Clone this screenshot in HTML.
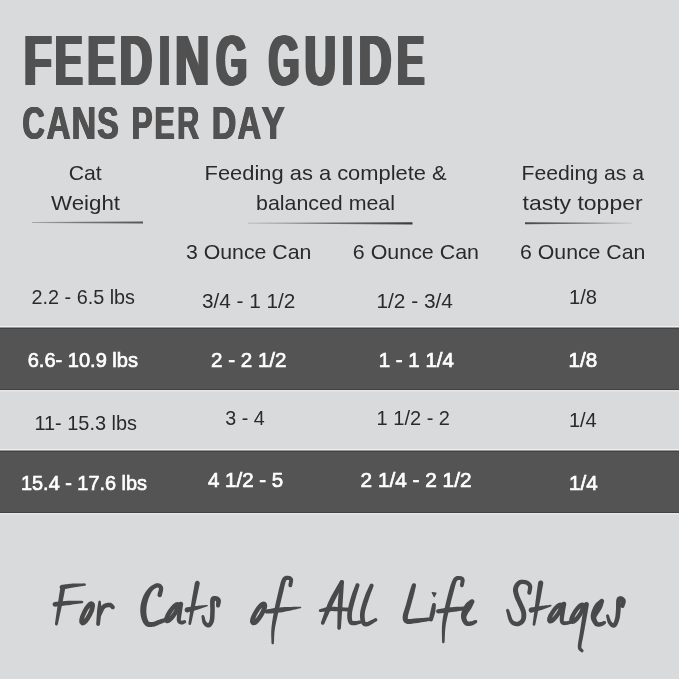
<!DOCTYPE html>
<html><head><meta charset="utf-8">
<style>
html,body{margin:0;padding:0;background:#d9dadc;width:679px;height:679px;overflow:hidden}
svg{display:block}
text{will-change:transform}
.t{font-family:"Liberation Sans",sans-serif;font-weight:bold;fill:#515151}
.b{font-family:"Liberation Sans",sans-serif;font-size:21px;fill:#2a2a2a}
.w{font-family:"Liberation Sans",sans-serif;font-size:21px;fill:#ffffff;stroke:#ffffff;stroke-width:0.7px}
</style></head><body>
<svg width="679" height="679" viewBox="0 0 679 679">
<rect x="0" y="0" width="679" height="679" fill="#d9dadc"/>
<!-- title -->
<g id="ttl" class="t">
<text transform="translate(22.14 85.00) scale(0.6533 1)" font-size="70">F</text>
<text transform="translate(53.33 85.00) scale(0.5907 1)" font-size="70">E</text>
<text transform="translate(85.67 85.00) scale(0.6035 1)" font-size="70">E</text>
<text transform="translate(117.98 85.00) scale(0.6452 1)" font-size="70">D</text>
<text transform="translate(157.40 85.00) scale(0.5554 1)" font-size="70">I</text>
<text transform="translate(173.44 85.00) scale(0.6755 1)" font-size="70">N</text>
<text transform="translate(214.56 85.00) scale(0.5695 1)" font-size="70">G</text>
<text transform="translate(266.88 85.00) scale(0.5652 1)" font-size="70">G</text>
<text transform="translate(302.89 85.00) scale(0.6203 1)" font-size="70">U</text>
<text transform="translate(340.40 85.00) scale(0.5554 1)" font-size="70">I</text>
<text transform="translate(356.96 85.00) scale(0.6499 1)" font-size="70">D</text>
<text transform="translate(395.13 85.00) scale(0.5907 1)" font-size="70">E</text>
</g>
<use href="#ttl" x="0.82"/>
<use href="#ttl" x="1.65"/>
<use href="#ttl" x="2.47"/>
<use href="#ttl" x="3.30"/>
<g id="cns" class="t">
<text transform="translate(21.84 138.70) scale(0.6683 1)" font-size="46">C</text>
<text transform="translate(45.88 138.70) scale(0.7193 1)" font-size="46">A</text>
<text transform="translate(70.92 138.70) scale(0.7396 1)" font-size="46">N</text>
<text transform="translate(96.58 138.70) scale(0.6967 1)" font-size="46">S</text>
<text transform="translate(130.90 138.70) scale(0.6838 1)" font-size="46">P</text>
<text transform="translate(153.76 138.70) scale(0.6626 1)" font-size="46">E</text>
<text transform="translate(176.56 138.70) scale(0.6644 1)" font-size="46">R</text>
<text transform="translate(211.13 138.70) scale(0.7373 1)" font-size="46">D</text>
<text transform="translate(236.89 138.70) scale(0.7064 1)" font-size="46">A</text>
<text transform="translate(260.91 138.70) scale(0.7546 1)" font-size="46">Y</text>
</g>
<use href="#cns" x="0.43"/>
<use href="#cns" x="0.87"/>
<use href="#cns" x="1.30"/>
<!-- headers -->
<text class="b" x="68.7" y="179.5" textLength="33" lengthAdjust="spacingAndGlyphs">Cat</text>
<text class="b" x="51" y="209.7" textLength="69" lengthAdjust="spacingAndGlyphs">Weight</text>
<text class="b" x="204.6" y="179.5" textLength="242" lengthAdjust="spacingAndGlyphs">Feeding as a complete &amp;</text>
<text class="b" x="256" y="209.7" textLength="139" lengthAdjust="spacingAndGlyphs">balanced meal</text>
<text class="b" x="521.5" y="179.5" textLength="122.5" lengthAdjust="spacingAndGlyphs">Feeding as a</text>
<text class="b" x="522.6" y="209.7" textLength="120" lengthAdjust="spacingAndGlyphs">tasty topper</text>
<!-- rules -->
<defs>
<linearGradient id="g1" x1="0" x2="1" y1="0" y2="0"><stop offset="0" stop-color="#a8a8a8"/><stop offset="0.4" stop-color="#7a7a7a"/><stop offset="1" stop-color="#555"/></linearGradient>
<linearGradient id="g2" x1="0" x2="1" y1="0" y2="0"><stop offset="0" stop-color="#b0b0b0"/><stop offset="0.5" stop-color="#707070"/><stop offset="1" stop-color="#3a3a3a"/></linearGradient>
<linearGradient id="g3" x1="0" x2="1" y1="0" y2="0"><stop offset="0" stop-color="#484848"/><stop offset="0.6" stop-color="#808080"/><stop offset="1" stop-color="#c4c4c4"/></linearGradient>
</defs>
<polygon points="32,222.1 143,221.6 143,223.6 32,223.1" fill="url(#g1)"/>
<polygon points="248,222.7 412.5,222.2 412.5,224.4 248,223.5" fill="url(#g2)"/>
<polygon points="525,222.3 632,222.7 632,223.6 525,224.2" fill="url(#g3)"/>
<!-- subheaders -->
<text class="b" x="186" y="259" textLength="125.3" lengthAdjust="spacingAndGlyphs">3 Ounce Can</text>
<text class="b" x="352.8" y="259" textLength="126.2" lengthAdjust="spacingAndGlyphs">6 Ounce Can</text>
<text class="b" x="520" y="259" textLength="125.4" lengthAdjust="spacingAndGlyphs">6 Ounce Can</text>
<!-- row 1 -->
<text class="b" x="31.5" y="303.6" textLength="103.5" lengthAdjust="spacingAndGlyphs">2.2 - 6.5 lbs</text>
<text class="b" x="202" y="307.5" textLength="93.4" lengthAdjust="spacingAndGlyphs">3/4 - 1 1/2</text>
<text class="b" x="376.4" y="307.5" textLength="76.6" lengthAdjust="spacingAndGlyphs">1/2 - 3/4</text>
<text class="b" x="569" y="303.5" textLength="28" lengthAdjust="spacingAndGlyphs">1/8</text>
<!-- row 2 dark -->
<rect x="0" y="326" width="679" height="1" fill="#efefef"/>
<rect x="0" y="327.5" width="679" height="62.5" fill="#545454"/>
<rect x="0" y="328" width="679" height="1" fill="#424242"/>
<rect x="0" y="389" width="679" height="1" fill="#424242"/>
<rect x="0" y="390" width="679" height="1.5" fill="#e6e6e6"/>
<text class="w" x="27.7" y="366.8" textLength="110.3" lengthAdjust="spacingAndGlyphs">6.6- 10.9 lbs</text>
<text class="w" x="211" y="367" textLength="75.5" lengthAdjust="spacingAndGlyphs">2 - 2 1/2</text>
<text class="w" x="378.8" y="367" textLength="75.1" lengthAdjust="spacingAndGlyphs">1 - 1 1/4</text>
<text class="w" x="568.6" y="367" textLength="28.7" lengthAdjust="spacingAndGlyphs">1/8</text>
<!-- row 3 -->
<text class="b" x="34.4" y="429.8" textLength="102.6" lengthAdjust="spacingAndGlyphs">11- 15.3 lbs</text>
<text class="b" x="225.3" y="425.3" textLength="39.4" lengthAdjust="spacingAndGlyphs">3 - 4</text>
<text class="b" x="376.6" y="425.3" textLength="73.4" lengthAdjust="spacingAndGlyphs">1 1/2 - 2</text>
<text class="b" x="568.9" y="426.5" textLength="27.9" lengthAdjust="spacingAndGlyphs">1/4</text>
<!-- row 4 dark -->
<rect x="0" y="449" width="679" height="1" fill="#efefef"/>
<rect x="0" y="450.5" width="679" height="62.5" fill="#545454"/>
<rect x="0" y="451" width="679" height="1" fill="#424242"/>
<rect x="0" y="512" width="679" height="1" fill="#424242"/>
<rect x="0" y="513" width="679" height="1.5" fill="#e6e6e6"/>
<text class="w" x="21" y="489.6" textLength="126" lengthAdjust="spacingAndGlyphs">15.4 - 17.6 lbs</text>
<text class="w" x="208" y="487" textLength="75.2" lengthAdjust="spacingAndGlyphs">4 1/2 - 5</text>
<text class="w" x="360.6" y="487" textLength="110.9" lengthAdjust="spacingAndGlyphs">2 1/4 - 2 1/2</text>
<text class="w" x="569" y="490.2" textLength="28.6" lengthAdjust="spacingAndGlyphs">1/4</text>
<!-- script -->
<g fill="#494949" stroke="none">
<path d="M62.35,589.55 63.72,589.30 65.09,589.06 66.45,588.81 67.80,588.57 69.15,588.33 70.50,588.09 71.86,587.85 73.23,587.62 74.82,587.36 76.43,587.10 78.07,586.85 79.72,586.60 81.38,586.35 83.05,586.09 84.70,585.84 85.17,585.71 85.55,585.40 85.78,584.98 85.84,584.50 85.71,584.03 85.40,583.65 84.98,583.42 84.50,583.36 82.83,583.38 81.15,583.39 79.47,583.40 77.79,583.41 76.11,583.44 74.43,583.49 72.77,583.58 71.33,583.69 69.91,583.83 68.51,583.99 67.13,584.16 65.75,584.33 64.38,584.51 63.02,584.69 61.65,584.85 60.78,585.17 60.09,585.79 59.70,586.62 59.65,587.55 59.97,588.42 60.59,589.11 61.42,589.50Z"/>
<path d="M60.45,587.07 60.11,589.25 59.76,591.42 59.41,593.58 59.07,595.75 58.72,597.93 58.38,600.13 58.03,602.35 57.69,604.62 57.29,607.27 56.90,609.97 56.51,612.71 56.12,615.46 55.73,618.23 55.34,621.00 54.95,623.74 54.96,624.31 55.19,624.84 55.61,625.24 56.14,625.45 56.71,625.44 57.24,625.21 57.64,624.79 57.85,624.26 58.43,621.55 59.03,618.82 59.62,616.09 60.21,613.37 60.80,610.67 61.37,608.00 61.91,605.38 62.37,603.13 62.82,600.91 63.25,598.73 63.67,596.56 64.09,594.41 64.50,592.26 64.92,590.10 65.35,587.93 65.33,586.96 64.94,586.08 64.24,585.40 63.33,585.05 62.36,585.07 61.48,585.46 60.80,586.16Z"/>
<path d="M55.24,606.66 56.86,606.47 58.47,606.29 60.07,606.11 61.66,605.93 63.27,605.74 64.88,605.55 66.52,605.35 68.18,605.14 70.12,604.88 72.11,604.60 74.12,604.31 76.16,604.02 78.20,603.72 80.25,603.42 82.28,603.13 82.70,603.01 83.05,602.74 83.27,602.36 83.33,601.92 83.21,601.50 82.94,601.15 82.56,600.93 82.12,600.87 80.07,600.86 78.01,600.84 75.94,600.81 73.88,600.79 71.83,600.78 69.81,600.80 67.82,600.86 66.12,600.94 64.45,601.06 62.81,601.19 61.19,601.33 59.58,601.49 57.98,601.65 56.38,601.80 54.76,601.94 53.87,602.21 53.16,602.80 52.73,603.62 52.64,604.54 52.91,605.43 53.50,606.14 54.32,606.57Z"/>
<path d="M98.36,601.76 98.21,602.75 98.05,603.68 97.90,604.58 97.74,605.49 97.59,606.44 97.44,607.45 97.30,608.58 97.16,609.85 97.01,611.53 96.87,613.40 96.73,615.41 96.59,617.51 96.46,619.65 96.32,621.78 96.19,623.83 96.27,624.58 96.63,625.23 97.21,625.70 97.93,625.91 98.68,625.83 99.33,625.47 99.80,624.89 100.01,624.17 100.23,622.12 100.48,620.01 100.73,617.88 100.97,615.78 101.18,613.76 101.34,611.86 101.44,610.15 101.47,608.81 101.44,607.63 101.37,606.56 101.27,605.58 101.16,604.66 101.04,603.75 100.93,602.82 100.84,601.84 100.76,601.36 100.51,600.95 100.11,600.67 99.64,600.56 99.16,600.64 98.75,600.89 98.47,601.29Z"/>
<path d="M101.46,615.23 101.90,614.32 102.35,613.36 102.79,612.40 103.22,611.47 103.64,610.60 104.04,609.84 104.41,609.21 104.75,608.75 105.04,608.43 105.29,608.21 105.53,608.05 105.76,607.92 106.02,607.81 106.33,607.71 106.72,607.59 107.12,607.47 107.48,607.38 107.85,607.32 108.24,607.28 108.63,607.26 109.01,607.26 109.36,607.29 109.63,607.32 109.76,607.33 109.82,607.34 109.88,607.35 110.04,607.46 110.27,607.67 110.58,607.99 110.96,608.38 111.35,608.73 112.01,609.17 112.78,609.33 113.56,609.19 114.23,608.75 114.67,608.09 114.83,607.32 114.69,606.54 114.25,605.87 114.01,605.58 113.81,605.28 113.53,604.89 113.17,604.43 112.68,603.93 112.02,603.43 111.24,603.07 110.52,602.87 109.86,602.76 109.19,602.70 108.52,602.70 107.84,602.74 107.16,602.83 106.49,602.96 105.88,603.13 105.36,603.29 104.83,603.47 104.26,603.71 103.64,604.01 103.01,604.41 102.39,604.92 101.80,605.53 101.25,606.25 100.76,607.08 100.32,607.99 99.92,608.94 99.54,609.93 99.19,610.93 98.84,611.92 98.49,612.87 98.14,613.77 97.99,614.46 98.12,615.16 98.50,615.75 99.07,616.16 99.76,616.31 100.46,616.18 101.05,615.80Z"/>
<path d="M161.91,595.48 162.08,594.61 162.29,593.71 162.54,592.75 162.78,591.75 163.00,590.74 163.16,589.71 163.22,588.65 163.10,587.56 162.77,586.57 162.29,585.71 161.68,584.96 160.96,584.35 160.16,583.86 159.29,583.50 158.36,583.30 157.39,583.26 156.44,583.37 155.50,583.62 154.56,583.96 153.61,584.39 152.67,584.90 151.73,585.48 150.81,586.14 149.94,586.87 149.10,587.66 148.28,588.51 147.48,589.43 146.69,590.42 145.94,591.46 145.22,592.54 144.54,593.67 143.93,594.84 143.36,596.05 142.82,597.32 142.32,598.64 141.86,600.01 141.46,601.39 141.10,602.79 140.81,604.20 140.58,605.59 140.41,606.98 140.31,608.39 140.27,609.81 140.29,611.22 140.36,612.61 140.49,613.97 140.68,615.29 140.91,616.55 141.21,617.77 141.57,618.99 141.98,620.19 142.46,621.36 143.01,622.49 143.64,623.55 144.38,624.54 145.27,625.44 146.31,626.16 147.43,626.64 148.54,626.89 149.60,626.99 150.61,626.98 151.56,626.90 152.46,626.78 153.37,626.64 154.37,626.44 155.39,626.13 156.38,625.78 157.34,625.39 158.26,624.99 159.15,624.60 159.98,624.24 160.78,623.92 161.70,623.57 162.63,623.21 163.54,622.85 164.45,622.49 165.36,622.13 166.26,621.78 167.18,621.42 167.86,621.01 168.34,620.38 168.53,619.61 168.42,618.82 168.01,618.14 167.38,617.66 166.61,617.47 165.82,617.58 164.89,617.88 163.96,618.17 163.03,618.46 162.10,618.75 161.16,619.05 160.21,619.36 159.22,619.68 158.30,620.01 157.38,620.37 156.47,620.74 155.60,621.10 154.77,621.41 153.99,621.67 153.29,621.85 152.63,621.96 151.91,622.02 151.17,622.08 150.50,622.09 149.92,622.06 149.46,621.98 149.12,621.86 148.90,621.73 148.73,621.56 148.51,621.26 148.22,620.76 147.91,620.09 147.61,619.29 147.33,618.39 147.08,617.43 146.86,616.43 146.69,615.45 146.55,614.45 146.44,613.38 146.38,612.26 146.35,611.09 146.36,609.91 146.41,608.72 146.50,607.55 146.62,606.41 146.79,605.27 147.01,604.09 147.28,602.89 147.59,601.68 147.92,600.49 148.29,599.33 148.68,598.21 149.07,597.16 149.49,596.15 149.94,595.15 150.42,594.17 150.92,593.22 151.44,592.33 151.98,591.50 152.52,590.76 153.06,590.13 153.63,589.58 154.25,589.08 154.91,588.63 155.57,588.25 156.22,587.95 156.80,587.73 157.29,587.60 157.61,587.54 157.82,587.55 158.04,587.59 158.25,587.67 158.45,587.79 158.62,587.94 158.75,588.11 158.85,588.28 158.90,588.44 158.91,588.68 158.86,589.17 158.73,589.87 158.52,590.70 158.26,591.61 157.98,592.58 157.71,593.58 157.49,594.52 157.48,595.40 157.80,596.23 158.41,596.86 159.22,597.21 160.10,597.22 160.93,596.90 161.56,596.29Z"/>
<path d="M178.45,603.66 178.31,604.73 178.17,605.79 178.02,606.87 177.87,607.94 177.73,609.02 177.59,610.10 177.46,611.17 177.36,612.22 177.25,613.27 177.12,614.37 177.00,615.50 176.88,616.65 176.79,617.77 176.75,618.84 176.77,619.88 176.90,620.87 177.20,621.82 177.67,622.66 178.29,623.33 178.96,623.80 179.61,624.10 180.19,624.29 180.68,624.40 181.20,624.50 181.95,624.53 182.71,624.41 183.34,624.20 183.86,623.97 184.29,623.75 184.65,623.57 185.02,623.41 185.60,623.09 186.01,622.57 186.19,621.94 186.11,621.28 185.79,620.70 185.27,620.29 184.64,620.11 183.98,620.19 183.48,620.31 182.97,620.48 182.53,620.62 182.18,620.72 181.95,620.76 181.87,620.74 181.80,620.70 181.59,620.63 181.30,620.54 181.09,620.46 180.98,620.40 180.94,620.37 180.94,620.36 180.93,620.31 180.90,620.13 180.88,619.70 180.91,619.01 181.01,618.14 181.14,617.15 181.31,616.09 181.50,614.98 181.68,613.86 181.84,612.78 181.99,611.75 182.14,610.72 182.30,609.68 182.47,608.62 182.64,607.55 182.81,606.48 182.98,605.41 183.15,604.34 183.10,603.41 182.70,602.58 182.01,601.96 181.14,601.65 180.21,601.70 179.38,602.10 178.76,602.79Z"/>
<path d="M194.86,582.83 194.42,585.29 193.98,587.74 193.54,590.19 193.09,592.65 192.65,595.11 192.22,597.59 191.80,600.08 191.39,602.61 190.94,605.53 190.51,608.47 190.10,611.44 189.69,614.42 189.28,617.41 188.88,620.39 188.47,623.36 188.48,623.89 188.69,624.38 189.07,624.74 189.56,624.93 190.09,624.92 190.58,624.71 190.94,624.33 191.13,623.84 191.78,620.91 192.42,617.97 193.07,615.03 193.72,612.09 194.36,609.17 194.99,606.27 195.61,603.39 196.14,600.91 196.67,598.44 197.18,595.98 197.70,593.54 198.21,591.10 198.71,588.67 199.23,586.22 199.74,583.77 199.74,582.80 199.36,581.91 198.67,581.23 197.77,580.86 196.80,580.86 195.91,581.24 195.23,581.93Z"/>
<path d="M187.74,612.44 188.95,612.10 190.15,611.77 191.35,611.43 192.56,611.10 193.76,610.76 194.97,610.41 196.18,610.05 197.40,609.68 198.81,609.22 200.22,608.75 201.64,608.26 203.07,607.76 204.50,607.26 205.92,606.76 207.34,606.26 207.59,606.16 207.77,605.97 207.87,605.72 207.86,605.46 207.76,605.21 207.57,605.03 207.32,604.93 207.06,604.94 205.56,605.07 204.05,605.21 202.55,605.34 201.04,605.47 199.55,605.61 198.06,605.76 196.60,605.92 195.33,606.08 194.08,606.25 192.83,606.43 191.59,606.61 190.36,606.80 189.13,606.99 187.89,607.18 186.66,607.36 185.72,607.76 185.02,608.49 184.64,609.43 184.66,610.44 185.06,611.38 185.79,612.08 186.73,612.46Z"/>
<path d="M220.02,605.82 220.15,605.22 220.31,604.60 220.49,603.92 220.68,603.19 220.84,602.42 220.94,601.60 220.95,600.69 220.76,599.70 220.34,598.78 219.79,598.04 219.17,597.45 218.52,596.98 217.84,596.62 217.15,596.34 216.45,596.15 215.83,596.05 215.36,596.00 214.83,595.95 214.11,595.95 213.22,596.10 212.21,596.54 211.31,597.32 210.67,598.33 210.29,599.47 210.11,600.70 210.05,602.05 210.05,603.50 210.10,605.03 210.17,606.60 210.23,608.15 210.26,609.60 210.24,610.94 210.20,612.26 210.15,613.62 210.10,614.97 210.04,616.28 209.95,617.51 209.84,618.63 209.69,619.61 209.52,620.41 209.30,621.11 209.05,621.75 208.78,622.31 208.50,622.77 208.24,623.12 208.04,623.33 207.96,623.41 208.11,623.39 208.34,623.40 208.31,623.41 208.06,623.29 207.69,623.06 207.27,622.72 206.85,622.32 206.46,621.90 206.16,621.53 205.87,621.07 205.60,620.48 205.35,619.75 205.10,618.91 204.86,618.00 204.61,617.06 204.33,616.16 204.09,615.64 203.67,615.25 203.14,615.05 202.56,615.07 202.04,615.31 201.65,615.73 201.45,616.26 201.47,616.84 201.61,617.71 201.71,618.60 201.82,619.55 201.95,620.53 202.14,621.52 202.42,622.53 202.84,623.47 203.32,624.24 203.85,624.95 204.45,625.63 205.11,626.26 205.85,626.82 206.69,627.29 207.70,627.61 208.89,627.61 209.95,627.26 210.78,626.74 211.49,626.09 212.10,625.35 212.65,624.53 213.12,623.62 213.54,622.65 213.88,621.59 214.15,620.43 214.33,619.19 214.46,617.88 214.55,616.54 214.61,615.16 214.66,613.78 214.70,612.41 214.76,611.06 214.80,609.62 214.79,608.05 214.76,606.47 214.73,604.92 214.72,603.46 214.74,602.18 214.81,601.16 214.91,600.53 214.99,600.32 214.95,600.38 214.75,600.56 214.53,600.66 214.46,600.68 214.59,600.68 214.88,600.71 215.17,600.75 215.32,600.78 215.45,600.85 215.63,600.95 215.80,601.08 215.94,601.21 216.02,601.31 216.05,601.35 216.04,601.30 216.07,601.30 216.12,601.53 216.14,601.97 216.13,602.53 216.10,603.19 216.04,603.91 216.00,604.67 215.98,605.38 216.05,606.17 216.41,606.87 217.02,607.38 217.78,607.62 218.57,607.55 219.27,607.19 219.78,606.58Z"/>
<path d="M292.20,585.68 292.32,584.96 292.48,584.20 292.66,583.38 292.85,582.53 293.00,581.67 293.11,580.78 293.12,579.86 292.94,578.88 292.50,577.96 291.89,577.24 291.20,576.71 290.48,576.34 289.75,576.09 289.04,575.94 288.34,575.87 287.76,575.87 287.33,575.86 286.83,575.83 286.13,575.85 285.26,576.00 284.31,576.39 283.40,577.04 282.62,577.93 281.97,579.01 281.42,580.23 280.94,581.58 280.49,583.07 280.05,584.69 279.61,586.44 279.16,588.33 278.69,590.33 278.19,592.45 277.63,594.82 277.01,597.49 276.36,600.37 275.70,603.36 275.05,606.37 274.43,609.30 273.88,612.07 273.40,614.57 272.99,616.81 272.63,618.90 272.32,620.87 272.05,622.74 271.81,624.54 271.62,626.31 271.45,628.06 271.31,629.84 271.21,631.86 271.19,633.81 271.22,635.69 271.28,637.54 271.35,639.35 271.42,641.15 271.46,642.98 271.55,643.46 271.81,643.87 272.21,644.14 272.68,644.24 273.16,644.15 273.57,643.89 273.84,643.49 273.94,643.02 274.03,641.17 274.09,639.34 274.15,637.53 274.22,635.73 274.32,633.91 274.47,632.07 274.69,630.16 274.93,628.48 275.21,626.80 275.52,625.12 275.86,623.39 276.24,621.58 276.66,619.68 277.11,617.63 277.60,615.43 278.16,612.98 278.78,610.26 279.47,607.36 280.17,604.39 280.89,601.42 281.58,598.57 282.23,595.92 282.81,593.55 283.32,591.41 283.78,589.40 284.21,587.53 284.60,585.82 284.97,584.29 285.34,582.96 285.69,581.85 286.03,580.99 286.31,580.45 286.48,580.20 286.55,580.12 286.57,580.07 286.68,580.03 286.94,579.99 287.37,579.96 287.84,579.93 288.17,579.92 288.43,579.94 288.68,579.99 288.89,580.06 289.02,580.14 289.08,580.19 289.08,580.18 289.06,580.12 289.08,580.20 289.09,580.56 289.04,581.13 288.94,581.83 288.80,582.61 288.65,583.45 288.51,584.31 288.40,585.12 288.44,585.87 288.76,586.54 289.31,587.05 290.02,587.30 290.77,587.26 291.44,586.94 291.95,586.39Z"/>
<path d="M267.07,613.62 268.21,613.55 269.33,613.49 270.43,613.43 271.54,613.38 272.67,613.31 273.83,613.23 275.04,613.12 276.32,612.98 277.67,612.80 279.09,612.60 280.56,612.38 282.07,612.14 283.60,611.88 285.15,611.60 286.70,611.32 288.24,611.02 289.99,610.66 291.76,610.27 293.54,609.86 295.32,609.44 297.11,609.01 298.90,608.59 300.68,608.17 300.93,608.09 301.13,607.92 301.25,607.68 301.27,607.42 301.19,607.17 301.02,606.97 300.78,606.85 300.52,606.83 298.69,606.84 296.85,606.85 295.01,606.86 293.18,606.87 291.36,606.89 289.55,606.92 287.76,606.98 286.20,607.05 284.63,607.12 283.06,607.20 281.51,607.30 279.98,607.41 278.49,607.53 277.05,607.67 275.68,607.82 274.39,608.00 273.18,608.20 272.02,608.42 270.91,608.65 269.82,608.88 268.74,609.12 267.65,609.36 266.53,609.58 265.78,609.84 265.19,610.36 264.84,611.07 264.78,611.87 265.04,612.62 265.56,613.21 266.27,613.56Z"/>
<path d="M324.38,623.68 325.57,621.01 326.76,618.32 327.94,615.63 329.13,612.95 330.31,610.30 331.49,607.69 332.67,605.12 333.85,602.61 335.22,599.79 336.60,597.02 338.00,594.27 339.41,591.52 340.84,588.77 342.26,586.01 343.69,583.22 343.94,582.42 343.86,581.59 343.47,580.85 342.82,580.31 342.02,580.06 341.19,580.14 340.45,580.53 339.91,581.18 338.37,583.87 336.79,586.53 335.20,589.19 333.62,591.88 332.07,594.63 330.57,597.47 329.15,600.39 327.99,603.05 326.90,605.76 325.87,608.50 324.89,611.27 323.92,614.05 322.97,616.83 322.01,619.59 321.02,622.32 320.89,623.02 321.04,623.71 321.43,624.29 322.02,624.68 322.72,624.81 323.41,624.66 323.99,624.27Z"/>
<path d="M339.66,582.04 339.42,584.74 339.17,587.43 338.92,590.10 338.67,592.79 338.42,595.49 338.20,598.23 338.00,601.01 337.83,603.86 337.69,607.19 337.58,610.59 337.51,614.04 337.46,617.51 337.41,620.99 337.36,624.47 337.29,627.92 337.40,628.62 337.77,629.22 338.33,629.64 339.02,629.81 339.72,629.70 340.32,629.33 340.74,628.77 340.91,628.08 341.15,624.63 341.39,621.16 341.63,617.69 341.88,614.23 342.12,610.80 342.35,607.44 342.57,604.14 342.75,601.32 342.93,598.56 343.10,595.84 343.27,593.14 343.44,590.46 343.60,587.77 343.77,585.08 343.94,582.36 343.84,581.53 343.43,580.80 342.77,580.28 341.96,580.06 341.13,580.16 340.40,580.57 339.88,581.23Z"/>
<path d="M320.57,612.04 321.77,611.92 322.91,611.77 324.00,611.63 325.06,611.49 326.15,611.38 327.32,611.28 328.61,611.20 330.08,611.15 332.07,611.12 334.32,611.14 336.77,611.18 339.34,611.24 341.98,611.31 344.60,611.37 347.13,611.42 347.87,611.30 348.51,610.91 348.95,610.30 349.12,609.57 349.00,608.83 348.61,608.19 348.00,607.75 347.27,607.58 344.76,607.45 342.16,607.29 339.53,607.11 336.92,606.96 334.42,606.84 332.06,606.80 329.92,606.85 328.25,607.00 326.78,607.23 325.47,607.52 324.30,607.84 323.22,608.19 322.19,608.53 321.16,608.86 320.03,609.16 319.50,609.37 319.09,609.77 318.86,610.29 318.86,610.87 319.07,611.40 319.47,611.81 319.99,612.04Z"/>
<path d="M355.58,584.54 355.04,585.97 354.49,587.36 353.94,588.75 353.38,590.16 352.83,591.60 352.28,593.11 351.74,594.68 351.22,596.33 350.70,598.11 350.15,600.02 349.59,602.03 349.05,604.08 348.54,606.11 348.10,608.09 347.72,609.96 347.45,611.67 347.28,613.25 347.19,614.73 347.18,616.13 347.24,617.44 347.37,618.65 347.54,619.77 347.77,620.78 348.06,621.72 348.43,622.61 348.93,623.43 349.60,624.14 350.37,624.68 351.17,625.01 351.91,625.19 352.60,625.29 353.37,625.34 354.38,625.31 355.46,625.15 356.54,624.90 357.60,624.61 358.65,624.30 359.64,624.01 360.61,623.77 361.22,623.52 361.70,623.06 361.96,622.45 361.97,621.79 361.72,621.18 361.26,620.70 360.65,620.44 359.99,620.43 358.95,620.56 357.86,620.72 356.80,620.88 355.80,621.02 354.91,621.10 354.20,621.12 353.63,621.06 353.20,620.97 352.81,620.89 352.59,620.82 352.53,620.79 352.55,620.79 352.54,620.78 352.47,620.64 352.34,620.28 352.19,619.70 352.06,618.97 351.95,618.12 351.88,617.16 351.86,616.10 351.89,614.93 351.99,613.67 352.15,612.33 352.41,610.82 352.76,609.11 353.20,607.24 353.70,605.27 354.23,603.28 354.77,601.31 355.29,599.42 355.78,597.67 356.23,596.06 356.68,594.54 357.13,593.08 357.58,591.64 358.04,590.22 358.50,588.79 358.96,587.34 359.42,585.86 359.53,585.08 359.33,584.31 358.85,583.68 358.16,583.28 357.38,583.17 356.61,583.37 355.98,583.85Z"/>
<path d="M369.72,584.83 369.11,586.20 368.49,587.53 367.87,588.86 367.24,590.21 366.61,591.60 365.98,593.06 365.36,594.60 364.76,596.22 364.14,597.97 363.49,599.85 362.83,601.84 362.18,603.88 361.57,605.92 361.03,607.92 360.58,609.84 360.25,611.64 360.06,613.33 359.97,614.96 359.98,616.51 360.07,617.98 360.23,619.35 360.46,620.61 360.74,621.75 361.07,622.76 361.47,623.68 361.97,624.53 362.63,625.30 363.49,625.93 364.47,626.33 365.46,626.49 366.42,626.47 367.46,626.30 368.71,625.89 370.01,625.27 371.32,624.52 372.66,623.69 373.98,622.84 375.27,622.03 376.50,621.30 377.01,620.88 377.32,620.29 377.39,619.63 377.20,619.00 376.78,618.49 376.19,618.18 375.53,618.11 374.90,618.30 373.56,618.94 372.16,619.66 370.77,620.37 369.45,621.04 368.25,621.58 367.27,621.94 366.54,622.10 366.12,622.12 365.80,622.10 365.69,622.07 365.70,622.07 365.72,622.07 365.65,621.98 365.51,621.71 365.33,621.24 365.13,620.57 364.96,619.72 364.81,618.73 364.70,617.62 364.66,616.40 364.67,615.11 364.77,613.76 364.95,612.36 365.24,610.84 365.66,609.11 366.18,607.25 366.77,605.30 367.40,603.32 368.04,601.38 368.67,599.51 369.24,597.78 369.77,596.21 370.29,594.74 370.81,593.32 371.34,591.94 371.87,590.57 372.40,589.20 372.94,587.80 373.48,586.37 373.63,585.60 373.48,584.82 373.04,584.16 372.37,583.72 371.60,583.57 370.82,583.72 370.16,584.16Z"/>
<path d="M411.83,584.73 411.49,585.78 411.16,586.80 410.83,587.81 410.50,588.82 410.17,589.86 409.83,590.95 409.47,592.10 409.10,593.34 408.72,594.69 408.31,596.14 407.89,597.66 407.47,599.22 407.04,600.80 406.62,602.37 406.21,603.89 405.81,605.32 405.40,606.70 404.94,608.11 404.47,609.53 404.00,610.95 403.56,612.34 403.18,613.70 402.89,615.01 402.71,616.24 402.65,617.32 402.66,618.32 402.75,619.32 402.99,620.33 403.43,621.35 404.12,622.29 405.02,623.06 406.08,623.61 407.26,623.93 408.45,624.04 409.60,624.01 410.76,623.89 411.95,623.73 413.16,623.54 414.42,623.34 415.75,623.16 417.45,622.93 419.35,622.65 421.37,622.34 423.46,622.00 425.57,621.66 427.67,621.32 429.71,621.00 430.38,620.78 430.92,620.32 431.24,619.69 431.30,618.99 431.08,618.32 430.62,617.78 429.99,617.46 429.29,617.40 427.23,617.56 425.11,617.72 422.97,617.88 420.86,618.04 418.85,618.19 416.97,618.33 415.25,618.44 413.84,618.56 412.49,618.72 411.28,618.88 410.20,619.01 409.29,619.09 408.59,619.11 408.14,619.06 407.92,618.99 407.85,618.93 407.86,618.92 407.89,618.93 407.88,618.85 407.85,618.59 407.83,618.13 407.84,617.50 407.89,616.76 407.99,615.93 408.20,614.93 408.50,613.75 408.87,612.45 409.29,611.06 409.73,609.62 410.18,608.14 410.59,606.68 410.99,605.21 411.41,603.69 411.85,602.13 412.29,600.55 412.73,598.99 413.15,597.47 413.54,596.02 413.90,594.66 414.21,593.41 414.50,592.24 414.76,591.13 415.01,590.07 415.25,589.03 415.48,587.99 415.72,586.95 415.97,585.87 416.03,585.04 415.77,584.24 415.22,583.61 414.47,583.23 413.64,583.17 412.84,583.43 412.21,583.98Z"/>
<path d="M432.10,604.49 431.90,605.39 431.69,606.28 431.48,607.17 431.27,608.04 431.07,608.91 430.87,609.78 430.67,610.64 430.48,611.51 430.26,612.52 430.04,613.56 429.82,614.62 429.60,615.70 429.38,616.79 429.16,617.90 428.93,618.99 428.89,619.78 429.15,620.53 429.68,621.12 430.39,621.47 431.18,621.51 431.93,621.25 432.52,620.72 432.87,620.01 433.20,618.96 433.54,617.90 433.90,616.84 434.24,615.77 434.57,614.68 434.87,613.59 435.12,612.49 435.30,611.53 435.43,610.58 435.53,609.64 435.61,608.72 435.68,607.81 435.75,606.90 435.81,606.01 435.90,605.11 435.87,604.36 435.56,603.68 435.01,603.17 434.31,602.90 433.56,602.93 432.88,603.24 432.37,603.79Z"/>
<path d="M463.80,585.56 463.92,584.85 464.07,584.12 464.25,583.32 464.42,582.47 464.57,581.61 464.67,580.71 464.64,579.75 464.38,578.72 463.82,577.79 463.11,577.11 462.34,576.65 461.57,576.33 460.81,576.13 460.07,576.01 459.35,575.96 458.73,575.97 458.21,575.99 457.65,576.01 456.96,576.10 456.17,576.30 455.34,576.68 454.53,577.25 453.79,578.00 453.15,578.90 452.60,579.90 452.10,580.96 451.62,582.13 451.16,583.40 450.70,584.79 450.23,586.33 449.74,588.02 449.21,589.87 448.63,592.02 447.98,594.48 447.30,597.15 446.60,599.96 445.92,602.80 445.28,605.58 444.69,608.22 444.19,610.62 443.77,612.76 443.40,614.76 443.07,616.65 442.78,618.47 442.54,620.26 442.33,622.06 442.15,623.90 442.00,625.83 441.89,628.11 441.85,630.43 441.87,632.75 441.91,635.07 441.97,637.38 442.03,639.68 442.06,641.97 442.14,642.45 442.40,642.86 442.80,643.14 443.27,643.24 443.75,643.16 444.16,642.90 444.44,642.50 444.54,642.03 444.68,639.73 444.79,637.41 444.90,635.10 445.01,632.81 445.16,630.56 445.35,628.34 445.60,626.17 445.87,624.35 446.16,622.60 446.49,620.90 446.84,619.20 447.23,617.46 447.65,615.64 448.11,613.69 448.61,611.58 449.16,609.24 449.79,606.65 450.48,603.90 451.18,601.09 451.89,598.32 452.58,595.67 453.22,593.24 453.79,591.13 454.29,589.28 454.73,587.60 455.13,586.10 455.50,584.78 455.85,583.62 456.18,582.62 456.52,581.78 456.85,581.10 457.13,580.64 457.34,580.39 457.48,580.27 457.60,580.20 457.78,580.14 458.05,580.10 458.45,580.06 458.87,580.03 459.24,580.02 459.60,580.04 459.96,580.10 460.28,580.19 460.52,580.29 460.65,580.37 460.67,580.37 460.62,580.28 460.62,580.29 460.64,580.59 460.61,581.11 460.51,581.79 460.38,582.56 460.23,583.38 460.09,584.24 460.00,585.04 460.04,585.78 460.37,586.46 460.93,586.96 461.64,587.20 462.38,587.16 463.06,586.83 463.56,586.27Z"/>
<path d="M438.47,613.43 439.93,613.29 441.36,613.16 442.77,613.04 444.18,612.92 445.61,612.78 447.09,612.64 448.64,612.47 450.28,612.27 452.28,612.01 454.40,611.70 456.61,611.38 458.88,611.03 461.17,610.68 463.45,610.33 465.68,610.00 466.36,609.79 466.90,609.34 467.23,608.72 467.30,608.02 467.09,607.34 466.64,606.80 466.02,606.47 465.32,606.40 463.06,606.53 460.76,606.64 458.45,606.75 456.15,606.87 453.91,607.00 451.76,607.15 449.72,607.33 448.05,607.52 446.49,607.73 444.99,607.96 443.56,608.20 442.16,608.44 440.77,608.69 439.37,608.94 437.93,609.17 437.13,609.44 436.50,609.99 436.13,610.74 436.07,611.57 436.34,612.37 436.89,613.00 437.64,613.37Z"/>
<path d="M470.07,600.03 469.53,600.45 468.98,600.83 468.41,601.21 467.83,601.63 467.22,602.10 466.62,602.64 466.02,603.26 465.45,603.95 464.92,604.70 464.41,605.52 463.90,606.42 463.40,607.36 462.93,608.33 462.49,609.32 462.09,610.32 461.76,611.27 461.51,612.14 461.31,612.99 461.15,613.85 461.03,614.73 460.98,615.63 460.99,616.55 461.07,617.47 461.23,618.40 461.47,619.32 461.77,620.24 462.14,621.16 462.56,622.06 463.06,622.94 463.63,623.78 464.30,624.56 465.15,625.25 466.16,625.76 467.19,626.02 468.14,626.10 469.03,626.06 469.86,625.96 470.62,625.82 471.30,625.66 471.96,625.50 472.74,625.25 473.50,624.91 474.17,624.54 474.77,624.16 475.31,623.79 475.81,623.45 476.33,623.13 476.86,622.74 477.20,622.17 477.29,621.52 477.13,620.87 476.74,620.34 476.17,620.00 475.52,619.91 474.87,620.07 474.24,620.30 473.60,620.55 473.01,620.79 472.47,620.99 471.97,621.14 471.52,621.24 471.04,621.30 470.50,621.36 469.90,621.44 469.32,621.50 468.79,621.52 468.35,621.51 468.03,621.45 467.88,621.39 467.85,621.35 467.75,621.22 467.53,620.91 467.26,620.46 466.99,619.91 466.74,619.30 466.55,618.68 466.42,618.10 466.37,617.60 466.39,617.18 466.47,616.78 466.59,616.36 466.77,615.92 466.98,615.44 467.24,614.91 467.53,614.33 467.84,613.73 468.18,613.12 468.59,612.47 469.07,611.75 469.59,611.00 470.12,610.24 470.64,609.48 471.13,608.73 471.55,608.05 471.88,607.44 472.16,606.87 472.43,606.29 472.70,605.71 472.98,605.10 473.28,604.48 473.60,603.82 473.93,603.17 474.38,602.31 474.47,601.35 474.19,600.42 473.57,599.67 472.71,599.22 471.75,599.13 470.82,599.41Z"/>
<path d="M531.32,593.08 531.44,592.25 531.61,591.41 531.81,590.51 532.01,589.56 532.18,588.57 532.28,587.55 532.26,586.47 532.06,585.39 531.66,584.40 531.15,583.55 530.54,582.80 529.85,582.14 529.11,581.57 528.33,581.09 527.51,580.69 526.68,580.36 525.81,580.10 524.86,579.89 523.85,579.74 522.79,579.66 521.70,579.67 520.59,579.79 519.46,580.07 518.37,580.54 517.40,581.19 516.55,581.96 515.77,582.81 515.07,583.75 514.44,584.75 513.91,585.80 513.47,586.89 513.16,588.02 513.00,589.19 512.98,590.35 513.09,591.48 513.27,592.58 513.52,593.65 513.81,594.70 514.11,595.72 514.43,596.77 514.81,597.88 515.27,599.02 515.76,600.16 516.28,601.27 516.80,602.37 517.31,603.44 517.78,604.47 518.22,605.48 518.67,606.53 519.14,607.58 519.60,608.59 520.03,609.55 520.41,610.47 520.73,611.34 520.98,612.15 521.15,612.92 521.27,613.75 521.35,614.63 521.39,615.50 521.37,616.35 521.31,617.14 521.20,617.86 521.05,618.47 520.87,618.96 520.62,619.41 520.29,619.87 519.88,620.33 519.43,620.75 518.95,621.10 518.48,621.37 518.06,621.56 517.67,621.66 517.18,621.72 516.57,621.74 515.94,621.68 515.31,621.56 514.70,621.37 514.13,621.09 513.60,620.73 513.14,620.29 512.57,619.47 511.99,618.27 511.42,616.79 510.85,615.12 510.29,613.36 509.71,611.58 509.11,609.92 508.81,609.38 508.32,608.99 507.73,608.82 507.12,608.89 506.58,609.19 506.19,609.68 506.02,610.27 506.09,610.88 506.56,612.54 506.99,614.29 507.42,616.11 507.88,617.91 508.40,619.65 509.04,621.28 509.86,622.71 510.79,623.79 511.82,624.63 512.92,625.26 514.05,625.71 515.17,626.00 516.27,626.16 517.31,626.20 518.33,626.14 519.40,625.92 520.43,625.53 521.41,625.02 522.31,624.39 523.14,623.68 523.90,622.88 524.57,622.00 525.13,621.04 525.57,620.01 525.89,618.92 526.11,617.80 526.24,616.67 526.29,615.52 526.28,614.36 526.20,613.22 526.05,612.08 525.81,610.91 525.46,609.76 525.06,608.65 524.61,607.57 524.14,606.53 523.67,605.51 523.22,604.52 522.78,603.52 522.32,602.44 521.81,601.34 521.29,600.24 520.78,599.16 520.30,598.12 519.86,597.11 519.48,596.16 519.17,595.23 518.88,594.29 518.60,593.34 518.36,592.45 518.18,591.61 518.05,590.83 517.98,590.14 517.98,589.53 518.04,588.98 518.18,588.39 518.40,587.71 518.71,587.01 519.07,586.33 519.48,585.69 519.90,585.14 520.30,584.72 520.63,584.46 520.95,584.29 521.41,584.16 522.01,584.07 522.70,584.04 523.41,584.07 524.12,584.16 524.77,584.29 525.32,584.44 525.79,584.61 526.25,584.84 526.67,585.10 527.05,585.40 527.37,585.71 527.63,586.03 527.82,586.34 527.94,586.61 528.01,586.92 528.03,587.40 527.98,588.06 527.88,588.84 527.73,589.71 527.56,590.64 527.40,591.60 527.28,592.52 527.33,593.32 527.68,594.03 528.27,594.56 529.02,594.82 529.82,594.77 530.53,594.42 531.06,593.83Z"/>
<path d="M538.13,582.59 537.79,585.09 537.44,587.57 537.10,590.05 536.75,592.54 536.41,595.03 536.07,597.54 535.72,600.08 535.38,602.66 534.99,605.65 534.60,608.70 534.21,611.78 533.83,614.88 533.44,617.99 533.05,621.09 532.66,624.18 532.68,624.71 532.90,625.19 533.29,625.55 533.78,625.74 534.31,625.72 534.79,625.50 535.15,625.11 535.34,624.62 535.96,621.57 536.58,618.50 537.21,615.43 537.83,612.37 538.44,609.33 539.04,606.31 539.62,603.34 540.11,600.79 540.58,598.26 541.03,595.77 541.48,593.29 541.93,590.82 542.37,588.36 542.82,585.89 543.27,583.41 543.23,582.40 542.80,581.48 542.06,580.79 541.11,580.43 540.10,580.47 539.18,580.90 538.49,581.64Z"/>
<path d="M531.74,612.64 532.95,612.32 534.16,612.00 535.37,611.69 536.59,611.38 537.80,611.05 539.02,610.72 540.24,610.36 541.46,609.98 542.84,609.51 544.21,609.02 545.57,608.50 546.93,607.96 548.28,607.43 549.63,606.89 550.99,606.37 551.27,606.24 551.48,606.01 551.58,605.72 551.57,605.41 551.44,605.13 551.21,604.92 550.92,604.82 550.61,604.83 549.17,605.00 547.72,605.16 546.27,605.33 544.83,605.49 543.39,605.66 541.96,605.83 540.54,606.02 539.31,606.19 538.08,606.37 536.85,606.56 535.61,606.76 534.38,606.96 533.14,607.16 531.90,607.36 530.66,607.56 529.73,607.96 529.02,608.68 528.64,609.63 528.66,610.64 529.06,611.57 529.78,612.28 530.73,612.66Z"/>
<path d="M561.56,603.61 561.41,604.60 561.25,605.58 561.09,606.57 560.93,607.57 560.77,608.58 560.62,609.61 560.48,610.65 560.36,611.70 560.24,612.79 560.11,613.95 559.97,615.16 559.85,616.39 559.75,617.59 559.69,618.75 559.70,619.83 559.78,620.82 559.94,621.66 560.17,622.43 560.52,623.16 561.02,623.82 561.64,624.35 562.31,624.71 562.96,624.93 563.69,625.10 564.63,625.16 565.63,625.07 566.61,624.90 567.58,624.69 568.52,624.46 569.42,624.25 570.27,624.07 570.89,623.84 571.37,623.39 571.65,622.79 571.67,622.13 571.44,621.51 570.99,621.03 570.39,620.75 569.73,620.73 568.80,620.84 567.83,621.00 566.88,621.16 566.01,621.29 565.25,621.36 564.68,621.37 564.31,621.30 564.09,621.22 563.91,621.15 563.89,621.12 563.93,621.15 563.96,621.17 563.93,621.08 563.87,620.81 563.82,620.38 563.81,619.78 563.86,618.97 563.96,617.98 564.11,616.89 564.29,615.73 564.48,614.55 564.67,613.39 564.84,612.30 565.00,611.29 565.16,610.31 565.33,609.33 565.51,608.35 565.69,607.37 565.88,606.39 566.06,605.39 566.24,604.39 566.21,603.46 565.83,602.62 565.16,601.99 564.29,601.66 563.36,601.69 562.52,602.07 561.89,602.74Z"/>
<path d="M583.94,604.02 583.71,605.72 583.48,607.40 583.26,609.08 583.03,610.75 582.80,612.44 582.56,614.15 582.32,615.88 582.07,617.64 581.80,619.45 581.52,621.31 581.23,623.21 580.94,625.12 580.64,627.03 580.35,628.94 580.07,630.83 579.79,632.66 579.50,634.52 579.18,636.45 578.83,638.41 578.50,640.36 578.21,642.24 577.97,644.00 577.82,645.60 577.79,647.04 577.96,648.41 578.38,649.58 579.03,650.48 579.71,651.04 580.22,651.35 580.50,651.51 580.79,651.82 581.27,652.21 581.87,652.38 582.48,652.31 583.02,652.01 583.41,651.53 583.58,650.93 583.51,650.32 583.21,649.78 582.74,649.18 582.14,648.68 581.75,648.37 581.59,648.21 581.52,648.08 581.45,647.74 581.41,646.96 581.48,645.89 581.67,644.48 581.94,642.84 582.28,641.04 582.67,639.13 583.07,637.17 583.45,635.22 583.81,633.34 584.14,631.50 584.48,629.63 584.82,627.74 585.17,625.83 585.52,623.93 585.87,622.04 586.21,620.18 586.53,618.36 586.84,616.59 587.14,614.86 587.43,613.15 587.72,611.47 588.00,609.80 588.29,608.13 588.57,606.46 588.86,604.78 588.81,603.81 588.40,602.93 587.69,602.27 586.78,601.94 585.81,601.99 584.93,602.40 584.27,603.11Z"/>
<path d="M599.83,599.87 599.27,600.33 598.69,600.76 598.11,601.19 597.52,601.64 596.92,602.12 596.33,602.66 595.76,603.27 595.22,603.94 594.72,604.67 594.23,605.46 593.74,606.33 593.27,607.25 592.81,608.20 592.39,609.17 592.00,610.14 591.68,611.06 591.44,611.87 591.23,612.65 591.04,613.48 590.87,614.36 590.75,615.30 590.70,616.29 590.75,617.31 590.91,618.36 591.18,619.38 591.54,620.38 591.96,621.37 592.44,622.33 592.98,623.25 593.56,624.12 594.22,624.91 594.99,625.63 595.93,626.21 596.92,626.56 597.86,626.71 598.72,626.73 599.50,626.67 600.20,626.57 600.81,626.44 601.41,626.31 602.14,626.08 602.85,625.76 603.45,625.40 603.96,625.03 604.39,624.69 604.77,624.39 605.18,624.11 605.70,623.69 606.02,623.11 606.09,622.46 605.91,621.82 605.49,621.30 604.91,620.98 604.26,620.91 603.62,621.09 603.08,621.30 602.53,621.54 602.05,621.75 601.62,621.91 601.25,622.02 600.95,622.07 600.59,622.09 600.15,622.12 599.63,622.17 599.14,622.20 598.72,622.20 598.38,622.16 598.16,622.10 598.05,622.03 598.01,621.97 597.85,621.75 597.56,621.33 597.24,620.76 596.92,620.11 596.64,619.41 596.43,618.73 596.31,618.11 596.29,617.64 596.36,617.30 596.49,616.97 596.67,616.62 596.92,616.22 597.21,615.76 597.56,615.23 597.94,614.60 598.32,613.94 598.69,613.31 599.12,612.64 599.60,611.92 600.11,611.17 600.62,610.39 601.12,609.60 601.59,608.81 601.98,608.06 602.28,607.36 602.52,606.70 602.74,606.03 602.93,605.35 603.13,604.66 603.32,603.96 603.54,603.24 603.77,602.53 604.13,601.67 604.13,600.75 603.78,599.89 603.13,599.23 602.27,598.87 601.35,598.87 600.49,599.22Z"/>
<path d="M624.39,606.55 624.58,605.94 624.80,605.31 625.06,604.63 625.31,603.91 625.55,603.14 625.73,602.31 625.81,601.40 625.71,600.37 625.35,599.37 624.83,598.56 624.24,597.90 623.62,597.36 622.97,596.92 622.30,596.57 621.60,596.30 620.88,596.14 620.23,596.10 619.56,596.16 618.74,596.39 617.92,596.88 617.25,597.56 616.79,598.35 616.48,599.17 616.26,600.08 616.13,601.11 616.07,602.26 616.04,603.49 616.03,604.79 616.03,606.12 616.02,607.43 615.99,608.68 615.93,609.84 615.85,610.99 615.76,612.19 615.67,613.37 615.57,614.53 615.44,615.65 615.30,616.72 615.12,617.70 614.92,618.62 614.66,619.54 614.37,620.50 614.05,621.43 613.72,622.27 613.39,622.98 613.10,623.49 612.95,623.72 613.13,623.64 613.56,623.57 613.71,623.60 613.53,623.53 613.17,623.29 612.72,622.92 612.26,622.45 611.81,621.94 611.43,621.48 611.05,620.92 610.70,620.22 610.35,619.36 610.00,618.41 609.65,617.39 609.28,616.35 608.90,615.36 608.63,614.86 608.18,614.50 607.63,614.34 607.06,614.40 606.56,614.67 606.20,615.12 606.04,615.67 606.10,616.24 606.34,617.23 606.56,618.25 606.77,619.31 607.02,620.40 607.31,621.48 607.69,622.54 608.17,623.52 608.68,624.30 609.23,625.05 609.84,625.77 610.53,626.45 611.32,627.06 612.26,627.55 613.47,627.82 614.87,627.56 615.96,626.83 616.69,625.98 617.26,625.06 617.76,624.07 618.20,623.02 618.60,621.94 618.96,620.85 619.28,619.78 619.57,618.67 619.81,617.49 620.01,616.29 620.18,615.06 620.33,613.82 620.45,612.59 620.56,611.37 620.67,610.16 620.75,608.87 620.78,607.50 620.78,606.13 620.78,604.80 620.78,603.55 620.80,602.44 620.85,601.54 620.94,600.92 621.03,600.57 621.10,600.43 621.06,600.52 620.87,600.74 620.56,600.94 620.29,601.03 620.18,601.06 620.12,601.06 620.07,601.05 620.14,601.09 620.32,601.20 620.52,601.36 620.70,601.52 620.83,601.65 620.89,601.70 620.89,601.63 620.93,601.63 620.98,601.89 620.98,602.35 620.94,602.94 620.86,603.62 620.77,604.35 620.67,605.12 620.61,605.85 620.62,606.60 620.92,607.29 621.45,607.81 622.15,608.09 622.90,608.08 623.59,607.78 624.11,607.25Z"/>
<path d="M432.2,592.5 L436,593.2 L434.2,596.6 Z" stroke="#494949" stroke-width="1.2" stroke-linejoin="round"/>
</g>
<g fill="none" stroke="#494949" stroke-linecap="round">
<ellipse cx="87.1" cy="613.3" rx="3" ry="10.8" transform="rotate(27 87.1 613.3)" stroke-width="4.6"/>
<ellipse cx="172.4" cy="612.6" rx="2.6" ry="9.9" transform="rotate(34 172.4 612.6)" stroke-width="4.6"/>
<ellipse cx="258.6" cy="613.4" rx="3" ry="11" transform="rotate(31 258.6 613.4)" stroke-width="4.6"/>
<ellipse cx="555.4" cy="613" rx="2.8" ry="9.9" transform="rotate(35 555.4 613)" stroke-width="4.4"/>
<ellipse cx="577.4" cy="613.2" rx="2.8" ry="10" transform="rotate(33 577.4 613.2)" stroke-width="4.4"/>
</g>
</svg>
</body></html>
